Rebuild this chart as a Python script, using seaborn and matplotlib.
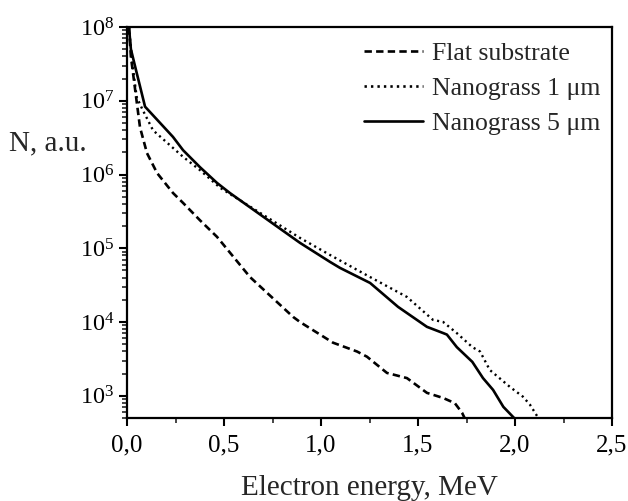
import numpy as np
import pandas as pd
import matplotlib
matplotlib.use("Agg")
import matplotlib.pyplot as plt
import matplotlib.ticker as mticker
import seaborn as sns

# ---- data ----
flat_x = [0.01, 0.02, 0.04, 0.067, 0.103, 0.155, 0.237, 0.289, 0.376, 0.464, 0.634,
          0.856, 0.892, 1.062, 1.186, 1.237, 1.34, 1.443, 1.546, 1.63, 1.69, 1.727, 1.74]
flat_logy = [8.0, 7.6, 7.19, 6.64, 6.29, 6.02, 5.75, 5.615, 5.38, 5.155, 4.61,
             4.07, 4.0, 3.72, 3.60, 3.53, 3.31, 3.24, 3.04, 2.97, 2.90, 2.77, 2.70]

ng1_x = [0.01, 0.03, 0.05, 0.08, 0.134, 0.289, 0.376, 0.48, 0.892, 1.046, 1.253, 1.443, 1.577,
         1.63, 1.70, 1.78, 1.82, 1.87, 1.974, 2.04, 2.077, 2.12]
ng1_logy = [8.0, 7.45, 7.05, 6.88, 6.60, 6.24, 6.06, 5.82, 5.14, 4.91, 4.61, 4.34, 4.03,
            4.0, 3.85, 3.66, 3.60, 3.35, 3.12, 2.99, 2.88, 2.70]

ng5_x = [0.01, 0.02, 0.046, 0.093, 0.237, 0.289, 0.376, 0.464, 0.53, 0.892, 1.046, 1.098,
         1.253, 1.397, 1.546, 1.63, 1.649, 1.70, 1.78, 1.835, 1.887, 1.94, 1.995]
ng5_logy = [8.0, 7.7, 7.42, 6.92, 6.51, 6.33, 6.10, 5.886, 5.75, 5.073, 4.816, 4.734,
            4.53, 4.206, 3.935, 3.85, 3.83, 3.66, 3.46, 3.24, 3.08, 2.85, 2.70]

labels = ["Flat substrate", "Nanograss 1 \u03bcm", "Nanograss 5 \u03bcm"]
x_ticks = [0.0, 0.5, 1.0, 1.5, 2.0, 2.5]

frames = []
for lab, xs, ly in zip(labels, [flat_x, ng1_x, ng5_x], [flat_logy, ng1_logy, ng5_logy]):
    frames.append(pd.DataFrame({"E": xs, "N": 10 ** np.array(ly), "series": lab}))
df = pd.concat(frames, ignore_index=True)

# ---- style ----
sns.set_style("ticks")
plt.rcParams["font.family"] = ["Liberation Serif", "DejaVu Serif"]
plt.rcParams["mathtext.fontset"] = "custom"
plt.rcParams["mathtext.rm"] = "Liberation Serif"
plt.rcParams["mathtext.it"] = "Liberation Serif:italic"

fig = plt.figure(figsize=(6.28, 5.01), dpi=100)
ax = fig.add_axes([127 / 628, 83 / 501, 485 / 628, 391 / 501])

styles = {labels[0]: (0, (2.8, 1.6)), labels[1]: (0, (0.9, 1.55)), labels[2]: "-"}
widths = {labels[0]: 1.9, labels[1]: 1.7, labels[2]: 1.9}
for lab in labels:
    sub = df[df["series"] == lab]
    sns.lineplot(data=sub, x="E", y="N", ax=ax, color="black", linestyle=styles[lab],
                 linewidth=widths[lab], label=lab, sort=False, estimator=None)

ax.set_yscale("log")
ax.set_xlim(0, 2.5)
ax.set_ylim(500, 1e8)

ax.set_xticks(x_ticks)
ax.xaxis.set_minor_locator(mticker.MultipleLocator(0.25))
ax.xaxis.set_major_formatter(mticker.FuncFormatter(lambda v, p: f"{v:.1f}".replace(".", ",")))
ax.yaxis.set_major_locator(mticker.LogLocator(base=10, numticks=20))
ax.yaxis.set_minor_locator(mticker.LogLocator(base=10, subs=np.arange(2, 10), numticks=20))
ax.yaxis.set_minor_formatter(mticker.NullFormatter())
ax.yaxis.set_major_formatter(mticker.FuncFormatter(lambda v, p: r"$\mathregular{10^{%d}}$" % round(np.log10(v))))

ax.tick_params(axis="both", which="major", direction="out", length=6, width=1.5,
               colors="black", top=False, right=False)
ax.tick_params(axis="x", which="major", labelsize=18, pad=6)
ax.tick_params(axis="y", which="major", labelsize=17.5, pad=3)
ax.tick_params(axis="both", which="minor", direction="out", length=3.5, width=1.2,
               top=False, right=False)

for s in ax.spines.values():
    s.set_visible(True)
    s.set_linewidth(1.6)
    s.set_color("black")

ax.set_xlabel("Electron energy, MeV", fontsize=21, va="baseline")
ax.xaxis.set_label_coords(0.5, -0.197)
ax.set_ylabel("N, a.u.", fontsize=21, rotation=0, ha="center", va="baseline")
ax.yaxis.set_label_coords(-0.164, 0.685)

leg = ax.legend(loc="upper right", frameon=False, fontsize=18.5, handlelength=2.3,
                handletextpad=0.35, labelspacing=0.47, borderaxespad=0.25,
                bbox_to_anchor=(1.01, 1.005))
for h in leg.get_lines():
    h.set_linewidth(1.9)

fig.savefig("out.png", dpi=100)
